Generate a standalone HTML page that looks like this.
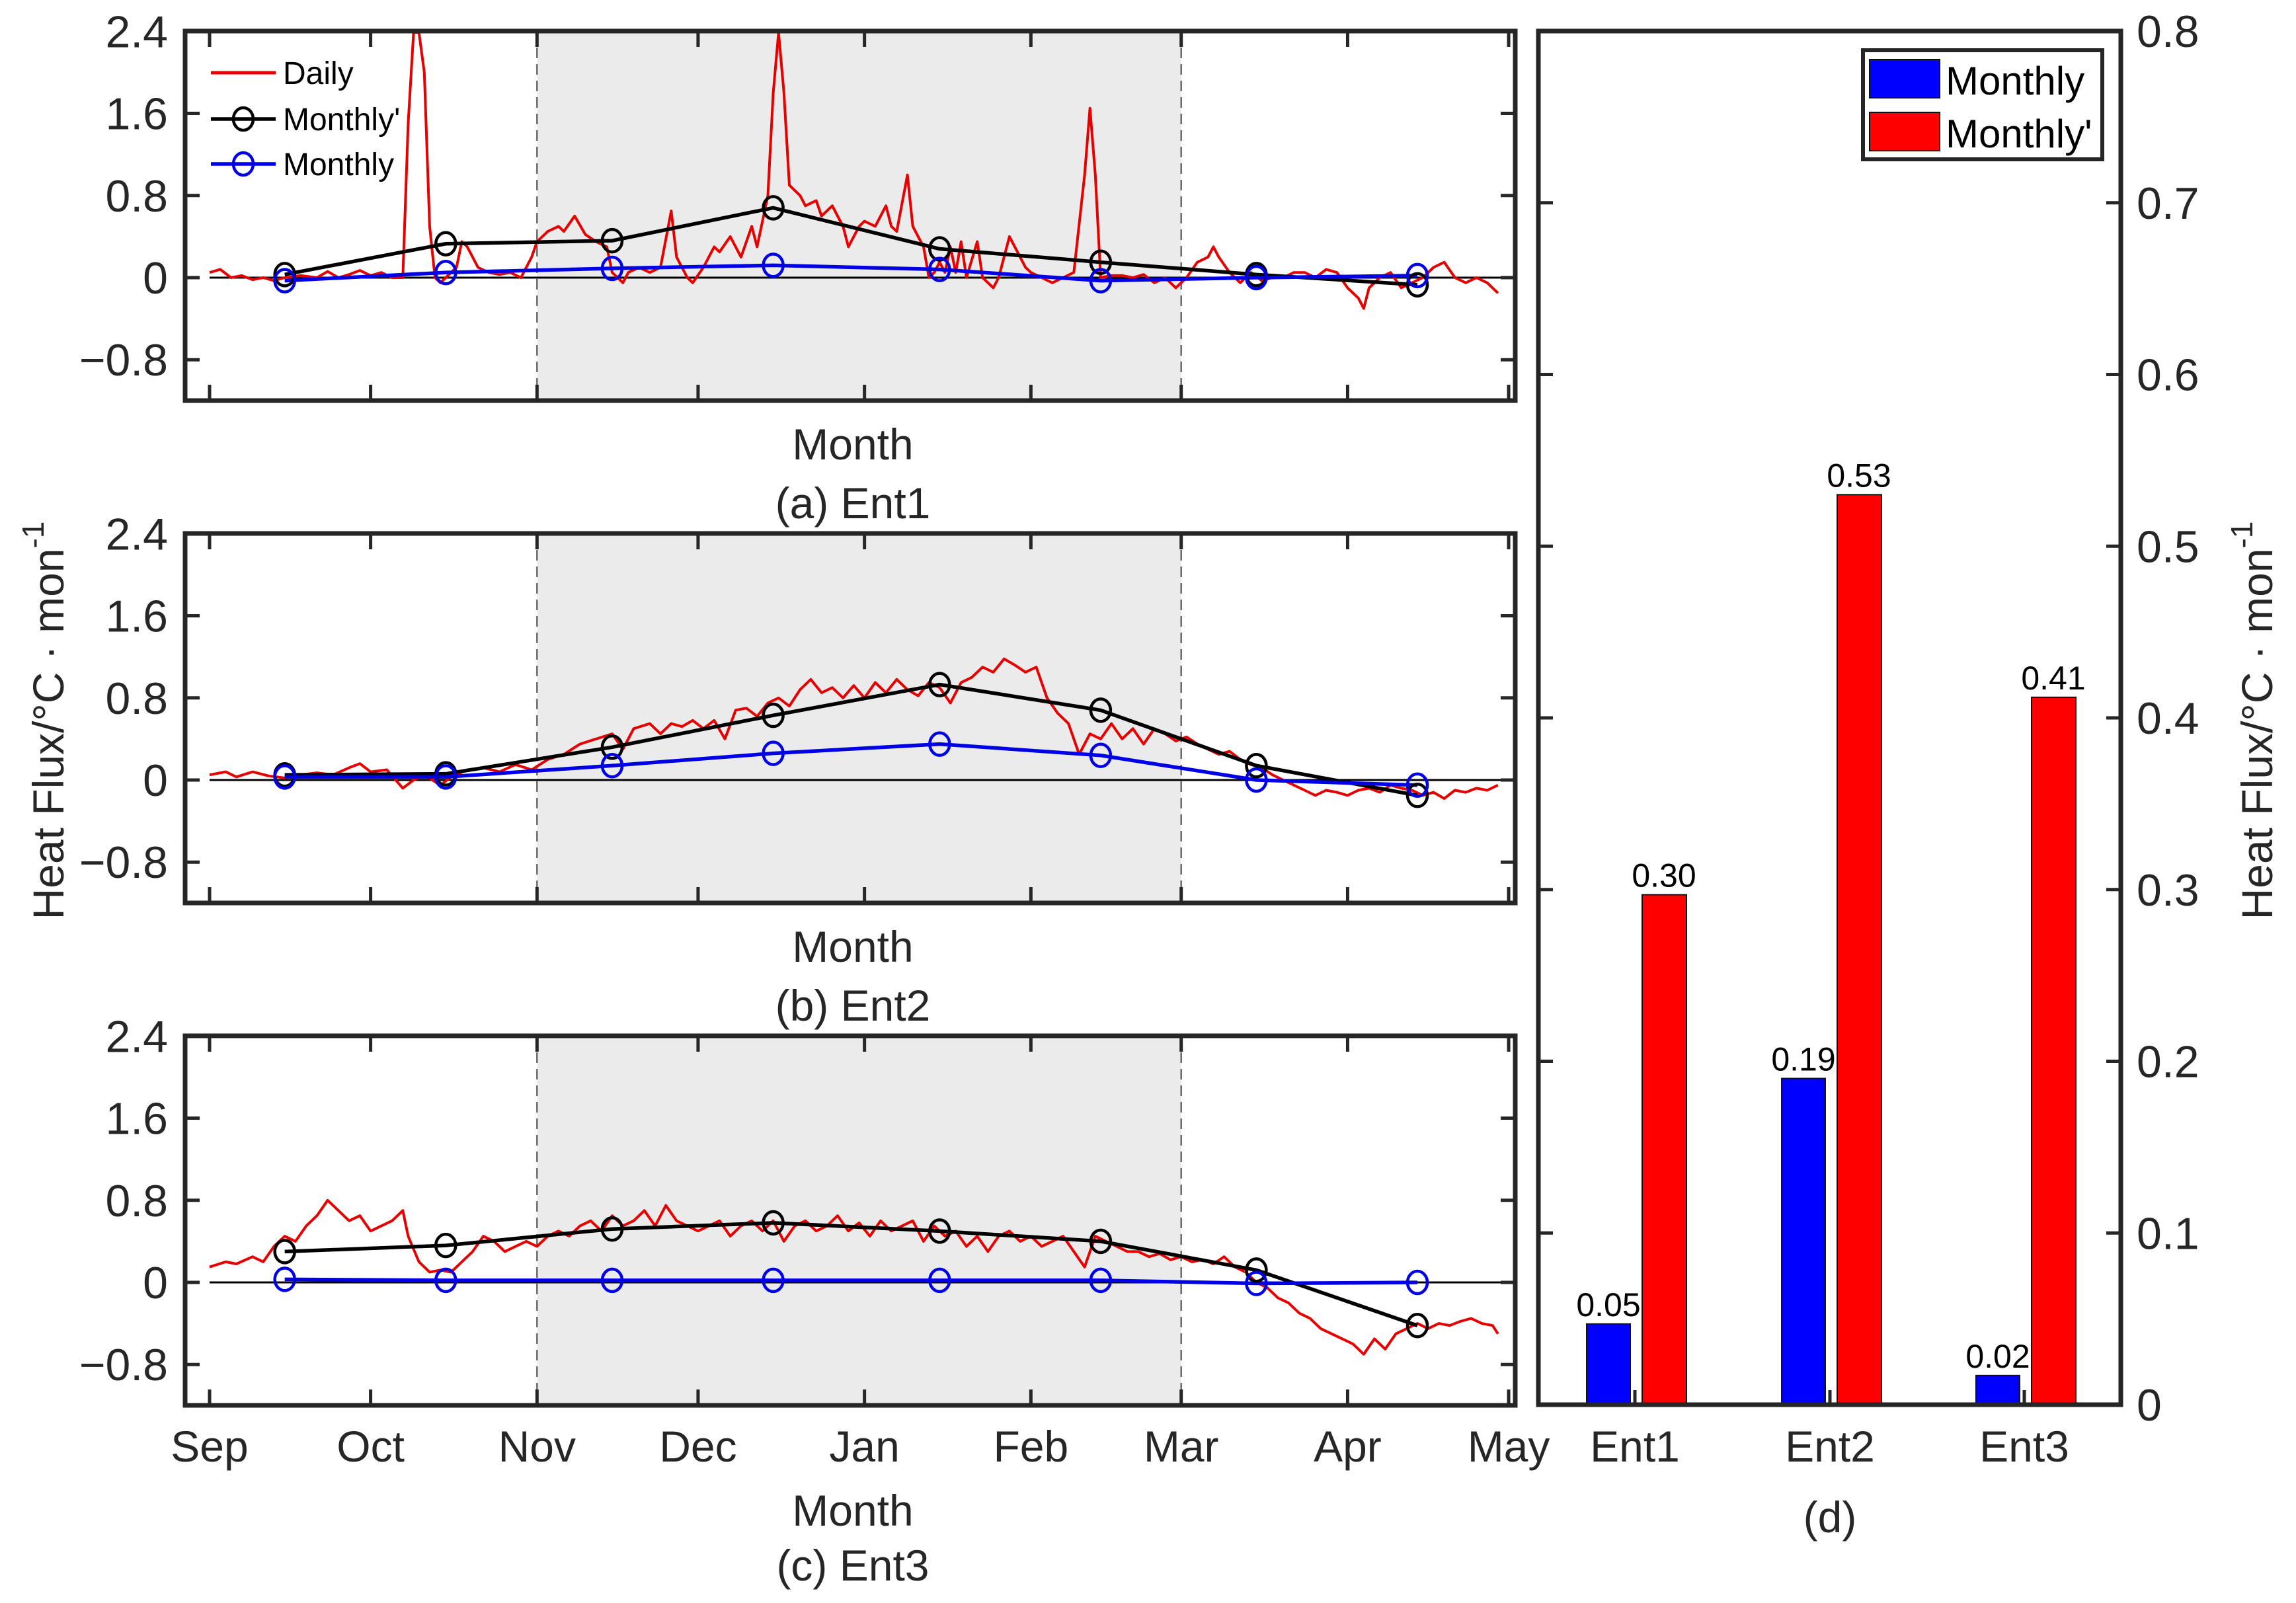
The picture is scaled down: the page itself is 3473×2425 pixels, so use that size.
<!DOCTYPE html>
<html><head><meta charset="utf-8"><style>
html,body{margin:0;padding:0;background:#fff;}
svg{display:block;font-family:"Liberation Sans",Arial,sans-serif;}
</style></head><body>
<svg id="fig" xmlns="http://www.w3.org/2000/svg" width="3473" height="2425" viewBox="0 0 3473 2425">
<rect x="0" y="0" width="3473" height="2425" fill="#fff"/>
</svg>
<script>
// ---------- DATA ----------
const monthLabels = ["Sep","Oct","Nov","Dec","Jan","Feb","Mar","Apr","May"];
const monthDays = [0,30,61,91,122,153,181,212,242];
const yTicks = [-0.8,0,0.8,1.6,2.4];
const yTickLabels = ["\u22120.8","0","0.8","1.6","2.4"];
const monthlyDays = [14,44,75,105,136,166,195,225];

const dailyDaysA = [0,2,4,6,8,10,12,14,17,20,22,24,26,28,30,32,34,36,37,38,39,40,41,42,43,44,46,47,48,50,52,54,56,58,60,61,63,65,66,68,70,72,74,75,76,77,78,80,82,84,86,87,89,90,92,94,95,97,99,101,102,104,105,106,107,108,110,111,113,114,116,118,119,121,122,124,126,127,128,130,131,133,134,135,136,137,138,139,140,141,143,144,146,147,149,150,152,153,155,157,159,161,163,164,165,166,168,170,172,174,176,178,180,182,184,186,187,188,190,192,194,196,198,200,202,204,206,208,210,212,214,215,216,218,220,222,224,226,228,230,232,234,236,238,240];
const dailyValsA = [0.05,0.08,0.0,0.02,-0.02,0.0,-0.03,0.0,0.02,0.0,0.06,0.0,0.03,0.07,0.02,0.05,0.0,0.0,1.5,2.4,2.4,2.0,0.5,0.0,-0.05,0.0,0.1,0.35,0.3,0.1,0.05,0.03,0.05,0.0,0.2,0.35,0.45,0.5,0.45,0.6,0.42,0.35,0.3,0.05,0.0,-0.05,0.05,0.1,0.05,0.1,0.65,0.2,0.0,-0.05,0.1,0.3,0.25,0.4,0.2,0.5,0.3,0.8,1.8,2.4,1.8,0.9,0.8,0.7,0.75,0.6,0.7,0.5,0.3,0.5,0.55,0.5,0.7,0.5,0.45,1.0,0.5,0.3,0.0,0.05,0.15,0.05,0.3,0.05,0.35,0.0,0.35,0.0,-0.1,0.0,0.4,0.3,0.1,0.05,0.0,-0.05,0.0,0.05,1.0,1.65,1.0,0.0,0.02,0.02,0.0,0.03,-0.05,0.0,-0.1,0.0,0.15,0.2,0.3,0.2,0.05,-0.05,0.05,-0.03,0.0,0.0,0.05,0.05,0.0,0.08,0.05,-0.1,-0.2,-0.3,-0.1,0.0,0.05,-0.1,-0.05,0.0,0.1,0.15,0.0,-0.05,0.0,-0.05,-0.15];
const monthlyPrimeA = [0.03,0.33,0.36,0.68,0.28,0.15,0.03,-0.07];
const monthlyA = [-0.03,0.05,0.09,0.12,0.08,-0.03,0.0,0.02];

const dailyDaysB = [0,3,5,8,11,14,17,20,23,26,28,30,33,36,38,40,43,45,48,51,54,57,60,63,66,69,72,75,77,79,82,84,86,88,90,92,94,96,98,100,102,104,106,108,110,112,114,116,118,120,122,124,126,128,130,132,134,136,138,140,142,144,146,148,150,152,154,156,158,160,162,164,166,168,170,172,174,176,178,180,182,184,186,188,190,192,194,196,198,200,202,204,206,208,210,212,214,216,218,220,222,224,226,228,230,232,234,236,238,240];
const dailyValsB = [0.05,0.08,0.03,0.08,0.04,0.02,0.05,0.07,0.05,0.12,0.16,0.08,0.10,-0.08,0.0,0.05,-0.05,0.03,0.10,0.12,0.08,0.15,0.10,0.20,0.25,0.35,0.40,0.45,0.30,0.50,0.55,0.45,0.55,0.52,0.58,0.50,0.58,0.40,0.68,0.70,0.62,0.75,0.80,0.72,0.88,0.98,0.85,0.90,0.80,0.92,0.80,0.95,0.85,0.98,0.88,0.82,0.95,0.90,0.75,0.95,1.00,1.10,1.05,1.18,1.12,1.05,1.10,0.80,0.65,0.55,0.25,0.45,0.40,0.55,0.40,0.50,0.35,0.50,0.45,0.38,0.42,0.35,0.30,0.25,0.28,0.20,0.15,0.12,0.05,0.0,-0.05,-0.10,-0.15,-0.10,-0.12,-0.15,-0.10,-0.08,-0.12,-0.05,-0.08,-0.10,-0.15,-0.12,-0.18,-0.10,-0.12,-0.08,-0.10,-0.05];
const monthlyPrimeB = [0.05,0.06,0.32,0.63,0.93,0.68,0.14,-0.15];
const monthlyB = [0.03,0.03,0.14,0.26,0.35,0.24,0.0,-0.05];

const dailyDaysC = [0,3,5,8,10,12,14,16,18,20,22,24,26,28,30,32,34,36,37,39,41,43,45,47,49,51,53,55,57,59,61,63,65,67,69,71,73,75,77,79,81,83,85,87,89,91,93,95,97,99,101,103,105,107,109,111,113,115,117,119,121,123,125,127,129,131,133,135,137,139,141,143,145,147,149,151,153,155,157,159,161,163,165,167,169,171,173,175,177,179,181,183,185,187,189,191,193,195,197,199,201,203,205,207,209,211,213,215,217,219,221,223,225,227,229,231,233,235,237,239,240];
const dailyValsC = [0.15,0.2,0.18,0.25,0.2,0.35,0.45,0.4,0.55,0.65,0.8,0.7,0.6,0.65,0.5,0.55,0.6,0.7,0.45,0.2,0.1,0.12,0.1,0.2,0.3,0.45,0.4,0.3,0.35,0.4,0.35,0.45,0.5,0.45,0.55,0.6,0.5,0.65,0.55,0.6,0.7,0.55,0.75,0.6,0.55,0.5,0.55,0.6,0.45,0.55,0.6,0.5,0.6,0.4,0.55,0.6,0.5,0.55,0.65,0.5,0.58,0.45,0.6,0.5,0.55,0.6,0.4,0.55,0.45,0.5,0.35,0.45,0.3,0.45,0.5,0.4,0.45,0.35,0.4,0.45,0.3,0.15,0.45,0.4,0.35,0.3,0.3,0.25,0.28,0.22,0.25,0.2,0.22,0.18,0.25,0.15,0.1,0.0,-0.05,-0.15,-0.2,-0.3,-0.35,-0.45,-0.5,-0.55,-0.6,-0.7,-0.55,-0.65,-0.5,-0.45,-0.4,-0.45,-0.4,-0.42,-0.38,-0.35,-0.4,-0.42,-0.5];
const monthlyPrimeC = [0.30,0.36,0.52,0.58,0.50,0.40,0.12,-0.42];
const monthlyC = [0.03,0.02,0.02,0.02,0.02,0.02,-0.01,0.0];

const barCategories = ["Ent1","Ent2","Ent3"];
const barMonthly = [0.047,0.19,0.017];
const barMonthlyPrime = [0.297,0.53,0.412];
const barTicks = [0,0.1,0.2,0.3,0.4,0.5,0.6,0.7,0.8];

// ---------- DRAW ----------
const NS = "http://www.w3.org/2000/svg";
const svg = document.getElementById("fig");
function mk(tag, attrs, parent) {
  const e = document.createElementNS(NS, tag);
  for (const k in attrs) e.setAttribute(k, attrs[k]);
  (parent || svg).appendChild(e);
  return e;
}
const AX = "#262626";
const LEFT = 280, RIGHT = 2292;
function xDay(d) { return 317 + d * 8.12; }

function panel(name, top, days, vals, mp, m, label, showMonthLabels) {
  const bottom = top + 559;
  const zero = top + 373;
  const yv = v => zero - v * 155.3;
  const g = mk("g", {});
  
  
  // shading
  const sh = mk("rect", {x: xDay(61), y: top, width: xDay(181) - xDay(61), height: bottom - top, fill: "#ebebeb"}, g);
  
  
  [61, 181].forEach(d => {
    const l = mk("line", {x1: xDay(d), x2: xDay(d), y1: top, y2: bottom, stroke: "#6a6a6a", "stroke-width": 2.5, "stroke-dasharray": "16,9"}, g);
    
    
  });
  // zero line
  const zl = mk("line", {x1: xDay(0), x2: xDay(242), y1: zero, y2: zero, stroke: "#000", "stroke-width": 3}, g);
  
  
  // daily
  const dp = days.map((d, i) => xDay(d).toFixed(1) + "," + Math.max(top + 2, yv(vals[i])).toFixed(1)).join(" ");
  const dl = mk("polyline", {points: dp, fill: "none", stroke: "#e60000", "stroke-width": 4, "stroke-linejoin": "round"}, g);
  
  
  // monthly'
  const bp = monthlyDays.map((d, i) => xDay(d) + "," + yv(mp[i])).join(" ");
  const bl = mk("polyline", {points: bp, fill: "none", stroke: "#000", "stroke-width": 5.5}, g);
  
  
  const mp2 = monthlyDays.map((d, i) => xDay(d) + "," + yv(m[i])).join(" ");
  const ml = mk("polyline", {points: mp2, fill: "none", stroke: "#0000e6", "stroke-width": 5.5}, g);
  
  
  monthlyDays.forEach((d, i) => {
    const c = mk("ellipse", {cx: xDay(d), cy: yv(mp[i]), rx: 15, ry: 17, fill: "none", stroke: "#000", "stroke-width": 4.5}, g);
    
    
  });
  monthlyDays.forEach((d, i) => {
    const c = mk("ellipse", {cx: xDay(d), cy: yv(m[i]), rx: 15, ry: 17, fill: "none", stroke: "#0000e6", "stroke-width": 4.5}, g);
    
    
  });
  // axes box
  const box = mk("rect", {x: LEFT, y: top, width: RIGHT - LEFT, height: bottom - top, fill: "none", stroke: AX, "stroke-width": 7}, g);
  
  
  // x ticks
  monthDays.forEach((d, i) => {
    const x = xDay(d);
    mk("line", {x1: x, x2: x, y1: bottom, y2: bottom - 24, stroke: AX, "stroke-width": 5}, g);
    mk("line", {x1: x, x2: x, y1: top, y2: top + 24, stroke: AX, "stroke-width": 5}, g);
    if (showMonthLabels) {
      const t = mk("text", {x: x, y: 2211, "font-size": 66, "text-anchor": "middle", fill: "#262626"}, g);
      t.textContent = monthLabels[i];
      
      
    }
  });
  // y ticks
  yTicks.forEach((v, i) => {
    const y = yv(v);
    mk("line", {x1: LEFT, x2: LEFT + 22, y1: y, y2: y, stroke: AX, "stroke-width": 5}, g);
    mk("line", {x1: RIGHT, x2: RIGHT - 22, y1: y, y2: y, stroke: AX, "stroke-width": 5}, g);
    const t = mk("text", {x: 254, y: y + 24, "font-size": 68, "text-anchor": "end", fill: "#262626"}, g);
    t.textContent = yTickLabels[i];
    
    
  });
  const mt = mk("text", {x: 1290, y: showMonthLabels ? 2308 : bottom + 89, "font-size": 66, "text-anchor": "middle", fill: "#262626"}, g);
  mt.textContent = "Month";
  
  
  const tt = mk("text", {x: 1290, y: showMonthLabels ? 2391 : bottom + 178, "font-size": 66, "text-anchor": "middle", fill: "#262626"}, g);
  tt.textContent = label;
  
  
}

panel("a", 47, dailyDaysA, dailyValsA, monthlyPrimeA, monthlyA, "(a) Ent1", false);
panel("b", 807, dailyDaysB, dailyValsB, monthlyPrimeB, monthlyB, "(b) Ent2", false);
panel("c", 1567, dailyDaysC, dailyValsC, monthlyPrimeC, monthlyC, "(c) Ent3", true);

// legend panel a
const lg = mk("g", {});


[["Daily", "#e60000", false, 110], ["Monthly'", "#000", true, 180], ["Monthly", "#0000e6", true, 248]].forEach(e => {
  mk("line", {x1: 319, x2: 417, y1: e[3], y2: e[3], stroke: e[1], "stroke-width": e[2] ? 5.5 : 5}, lg);
  if (e[2]) mk("ellipse", {cx: 368, cy: e[3], rx: 15, ry: 17, fill: "none", stroke: e[1], "stroke-width": 4.5}, lg);
  const t = mk("text", {x: 428, y: e[3] + 17, "font-size": 48, fill: "#000"}, lg);
  t.textContent = e[0];
  
  
});

// ---------- BAR PANEL (d) ----------
const DL = 2327, DR = 3208, DT = 47, DB = 2125;
const yb = v => DB - v * (DB - DT) / 0.8;
const catX = [2473, 2768, 3062];
const bg = mk("g", {});


barCategories.forEach((c, i) => {
  const b1 = mk("rect", {x: catX[i] - 73, y: yb(barMonthly[i]), width: 66, height: DB - yb(barMonthly[i]), fill: "#0000ff", stroke: "#111", "stroke-width": 2}, bg);
  
  
  const b2 = mk("rect", {x: catX[i] + 11, y: yb(barMonthlyPrime[i]), width: 67, height: DB - yb(barMonthlyPrime[i]), fill: "#ff0000", stroke: "#111", "stroke-width": 2}, bg);
  
  
  const l1 = mk("text", {x: catX[i] - 40, y: yb(barMonthly[i]) - 12, "font-size": 50, "text-anchor": "middle", fill: "#000"}, bg);
  l1.textContent = barMonthly[i].toFixed(2);
  
  
  const l2 = mk("text", {x: catX[i] + 44, y: yb(barMonthlyPrime[i]) - 12, "font-size": 50, "text-anchor": "middle", fill: "#000"}, bg);
  l2.textContent = barMonthlyPrime[i].toFixed(2);
  
  
  mk("line", {x1: catX[i], x2: catX[i], y1: DB, y2: DB - 22, stroke: AX, "stroke-width": 5}, bg);
  const ct = mk("text", {x: catX[i], y: 2211, "font-size": 66, "text-anchor": "middle", fill: "#262626"}, bg);
  ct.textContent = c;
  
  
});
const dbox = mk("rect", {x: DL, y: DT, width: DR - DL, height: DB - DT, fill: "none", stroke: AX, "stroke-width": 7}, bg);


barTicks.forEach(v => {
  const y = yb(v);
  mk("line", {x1: DL, x2: DL + 22, y1: y, y2: y, stroke: AX, "stroke-width": 5}, bg);
  mk("line", {x1: DR, x2: DR - 22, y1: y, y2: y, stroke: AX, "stroke-width": 5}, bg);
  const t = mk("text", {x: 3232, y: y + 24, "font-size": 68, fill: "#262626"}, bg);
  t.textContent = v === 0 ? "0" : v.toFixed(1);
  
  
});
const dt = mk("text", {x: 2768, y: 2318, "font-size": 66, "text-anchor": "middle", fill: "#262626"}, bg);
dt.textContent = "(d)";



// bar legend
const bl = mk("g", {});


mk("rect", {x: 2818, y: 76, width: 362, height: 165, fill: "#fff", stroke: AX, "stroke-width": 6}, bl);
[["Monthly", "#0000ff", 90, 143], ["Monthly'", "#ff0000", 170, 223]].forEach(e => {
  mk("rect", {x: 2828, y: e[2], width: 106, height: 58, fill: e[1], stroke: "#111", "stroke-width": 2}, bl);
  const t = mk("text", {x: 2943, y: e[3], "font-size": 60, fill: "#000"}, bl);
  t.textContent = e[0];
  
  
});

// y-axis titles
function ytitle(x, name) {
  const t = mk("text", {x: 0, y: 0, "font-size": 66, "text-anchor": "middle", fill: "#262626", transform: "translate(" + x + ",1090) rotate(-90)"});
  
  
  t.appendChild(document.createTextNode("Heat Flux/\u00B0C \u00B7 mon"));
  const s = mk("tspan", {dy: -30, "font-size": 46}, t);
  s.textContent = "-1";
}
ytitle(96, "y-axis-title");
ytitle(3437, "right-y-axis-title");
</script>
</body></html>
